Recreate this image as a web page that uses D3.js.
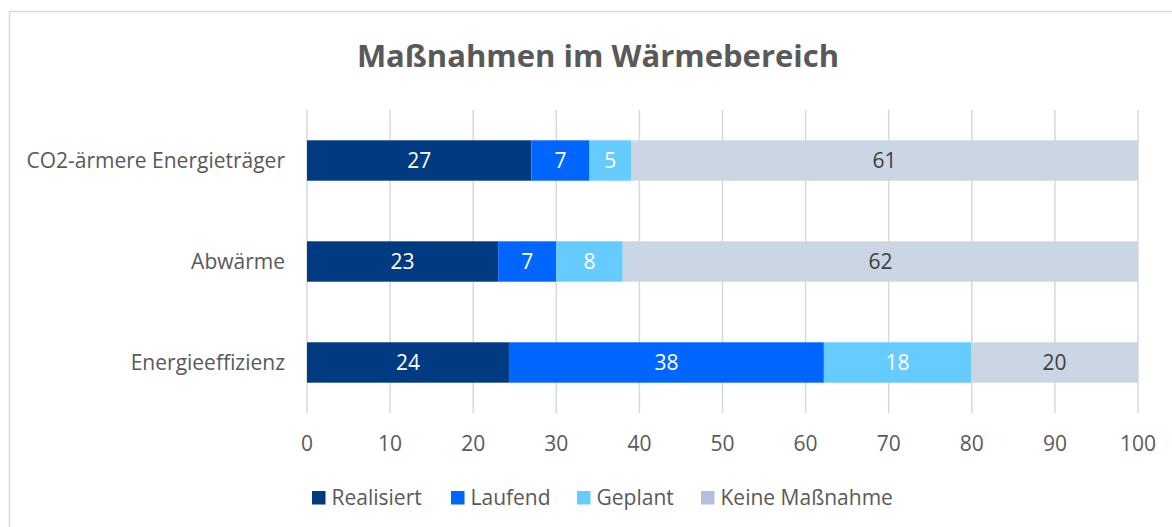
<!DOCTYPE html>
<html>
<head>
<meta charset="utf-8">
<script src="https://cdn.jsdelivr.net/npm/d3@7"></script>
<style>
  body { margin: 0; background: #fff; }
  svg { display: block; font-family: "Open Sans", sans-serif; }
</style>
</head>
<body>
<div id="chart"></div>
<script>
const categories = ["CO2-ärmere Energieträger", "Abwärme", "Energieeffizienz"];
const seriesNames = ["Realisiert", "Laufend", "Geplant", "Keine Maßnahme"];
const realisiert = [27, 23, 24.3];
const laufend = [7, 7, 37.9];
const geplant = [5, 8, 17.7];
const keine = [61, 62, 20.1];
const xTicks = [0, 10, 20, 30, 40, 50, 60, 70, 80, 90, 100];

const barColors = ["#003a80", "#0066ff", "#66ccff", "#cad6e4"];
const legendColors = ["#003a80", "#0066ff", "#66ccff", "#b4bedd"];
const labelColors = ["#fff", "#fff", "#fff", "#404040"];

const width = 1172, height = 527;
const svg = d3.select("#chart").append("svg")
    .attr("width", width)
    .attr("height", height);

// chart frame
svg.append("rect")
    .attr("x", 9.5).attr("y", 11.5)
    .attr("width", width + 10).attr("height", height + 10)
    .attr("fill", "none").attr("stroke", "#d9d9d9").attr("stroke-width", 1.5);

svg.append("text")
    .attr("x", 598).attr("y", 67)
    .attr("text-anchor", "middle")
    .attr("fill", "#595959")
    .style("font-size", "31px").style("font-weight", "bold")
    .text("Maßnahmen im Wärmebereich");

const x = d3.scaleLinear().domain([0, 100]).range([307, 1138]);
const y = d3.scaleBand().domain(categories).range([110, 413])
    .paddingInner(0.6).paddingOuter(0.3);

// gridlines
svg.append("g").selectAll("line")
    .data(xTicks)
    .join("line")
    .attr("x1", d => x(d)).attr("x2", d => x(d))
    .attr("y1", 110).attr("y2", 413)
    .attr("stroke", "#d9d9d9").attr("stroke-width", 1.5);

// x tick labels
svg.append("g").selectAll("text")
    .data(xTicks)
    .join("text")
    .attr("x", d => x(d)).attr("y", 444)
    .attr("dy", "0.35em")
    .attr("text-anchor", "middle")
    .attr("fill", "#595959")
    .style("font-size", "21px")
    .text(d => d);

// category labels
svg.append("g").selectAll("text")
    .data(categories)
    .join("text")
    .attr("x", 285).attr("y", d => y(d) + y.bandwidth() / 2)
    .attr("dy", "0.35em")
    .attr("text-anchor", "end")
    .attr("fill", "#595959")
    .style("font-size", "21px")
    .text(d => d);

const table = categories.map((c, i) => ({
    cat: c,
    "Realisiert": realisiert[i],
    "Laufend": laufend[i],
    "Geplant": geplant[i],
    "Keine Maßnahme": keine[i]
}));
const stacked = d3.stack().keys(seriesNames)(table);

const layers = svg.append("g").selectAll("g")
    .data(stacked)
    .join("g");

layers.selectAll("rect")
    .data(d => d)
    .join("rect")
    .attr("x", d => x(d[0]))
    .attr("width", d => x(d[1]) - x(d[0]))
    .attr("y", d => y(d.data.cat))
    .attr("height", y.bandwidth())
    .attr("fill", function() { return barColors[d3.select(this.parentNode).datum().index]; });

layers.selectAll("text")
    .data(d => d)
    .join("text")
    .attr("x", d => (x(d[0]) + x(d[1])) / 2)
    .attr("y", d => y(d.data.cat) + y.bandwidth() / 2)
    .attr("dy", "0.35em")
    .attr("text-anchor", "middle")
    .style("font-size", "21px")
    .attr("fill", function() { return labelColors[d3.select(this.parentNode).datum().index]; })
    .text(d => Math.round(d[1] - d[0]));

// legend
const legendX = [312, 451, 577, 701];
const legend = svg.append("g").selectAll("g")
    .data(seriesNames)
    .join("g")
    .attr("transform", (d, i) => `translate(${legendX[i]},491)`);
legend.append("rect")
    .attr("width", 13.5).attr("height", 13.5)
    .attr("fill", (d, i) => legendColors[i]);
legend.append("text")
    .attr("x", 19.5).attr("y", 6.5).attr("dy", "0.35em")
    .attr("fill", "#595959")
    .style("font-size", "21px")
    .text(d => d);
</script>
</body>
</html>
